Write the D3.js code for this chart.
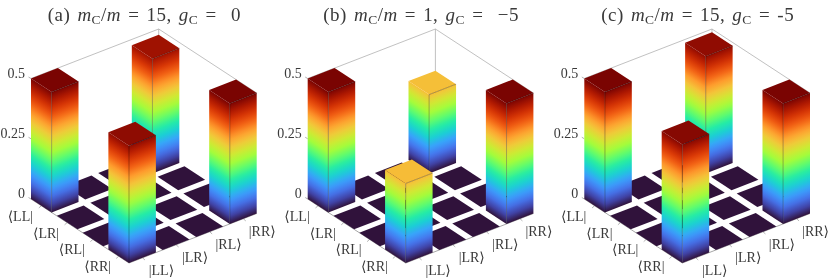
<!DOCTYPE html>
<html>
<head>
<meta charset="utf-8">
<script src="https://cdn.jsdelivr.net/npm/d3@7"></script>
<style>
  html, body { margin: 0; padding: 0; background: #fff; }
  text { font-family: "Liberation Serif", "DejaVu Serif", serif; fill: #3a3a3a; }
</style>
</head>
<body>
<div id="wrapper"></div>
<script>
const bras = ['LL', 'LR', 'RL', 'RR'];
const kets = ['LL', 'LR', 'RL', 'RR'];
const zTicks = [0, 0.25, 0.5];
const zTickLabels = ['0', '0.25', '0.5'];

// rows are bras, columns are kets
const panelA = [[0.5, 0, 0, 0.476], [0, 0, 0, 0], [0, 0, 0, 0], [0.487, 0, 0, 0.5]];
const panelB = [[0.5, 0, 0, 0.327], [0, 0, 0, 0], [0, 0, 0, 0], [0.33, 0, 0, 0.5]];
const panelC = [[0.5, 0, 0, 0.486], [0, 0, 0, 0], [0, 0, 0, 0], [0.492, 0, 0, 0.5]];

const turboStops = ['#30123b', '#4145ab', '#4675ed', '#39a2fc', '#1bcfd4', '#24eca6', '#61fc6c',
  '#a4fc3b', '#d1e834', '#f3c63a', '#fe9b2d', '#f36315', '#d93806', '#b11901', '#7a0402'];

const panels = [
  { values: panelA, offset: 0, title: ['(a) ', 'm', 'C', '/', 'm', ' = 15, ', 'g', 'C', ' =\u00A0\u00A00'], titleX: 144.4 },
  { values: panelB, offset: 276.7, title: ['(b) ', 'm', 'C', '/', 'm', ' = 1, ', 'g', 'C', ' =\u00A0\u00A0\u22125'], titleX: 144.4 },
  { values: panelC, offset: 553.3, title: ['(c) ', 'm', 'C', '/', 'm', ' = 15, ', 'g', 'C', ' = -5'], titleX: 144.4 }
];

const dimensions = {
  width: 830,
  height: 280,
  left: { x: 31, y: 199 },     // left corner of the floor
  colVec: { x: 127.7, y: -49.5 },
  rowVec: { x: 98, y: 64 }
};

const wrapper = d3.select('#wrapper')
  .append('svg')
    .attr('width', dimensions.width)
    .attr('height', dimensions.height)
    .style('display', 'block')
    .style('filter', 'blur(0.35px)');

const defs = wrapper.append('defs');

const colorScale = d3.scaleLinear()
  .domain(turboStops.map((d, i) => i / (turboStops.length - 1)))
  .range(turboStops);

const zColor = d3.scaleLinear().domain([0, 0.5]).range([0, 1]);
const zScale = d3.scaleLinear().domain([0, 0.5]).range([0, 120.5]);
const colScale = d3.scaleBand().domain(kets).range([0, 1]).paddingInner(0.2);
const rowScale = d3.scaleBand().domain(bras).range([0, 1]).paddingInner(0.2);

const project = (u, v, z) => [
  dimensions.left.x + u * dimensions.colVec.x + v * dimensions.rowVec.x,
  dimensions.left.y + u * dimensions.colVec.y + v * dimensions.rowVec.y - zScale(z)
];

const line = d3.line();
const closed = pts => line(pts) + 'Z';
let gradId = 0;

function faceGradient(a, b, z) {
  // colour bands run along the bottom edge a-b of the face
  const ex = b[0] - a[0], ey = b[1] - a[1];
  const len = Math.hypot(ex, ey);
  let nx = ey / len, ny = -ex / len;
  if (ny > 0) { nx = -nx; ny = -ny; }
  const d = zScale(z) * Math.abs(ny);
  const id = 'face' + (gradId++);
  const grad = defs.append('linearGradient')
      .attr('id', id)
      .attr('gradientUnits', 'userSpaceOnUse')
      .attr('x1', a[0]).attr('y1', a[1])
      .attr('x2', a[0] + nx * d).attr('y2', a[1] + ny * d);
  d3.range(0, 1.0001, 1 / 30).forEach(t => {
    grad.append('stop')
        .attr('offset', t)
        .attr('stop-color', colorScale(zColor(z * t)));
  });
  return `url(#${id})`;
}

function drawPanel(panel) {
  const bounds = wrapper.append('g')
      .attr('transform', `translate(${panel.offset}, 0)`);

  // title
  const title = bounds.append('text')
      .attr('x', panel.titleX)
      .attr('y', 21)
      .attr('text-anchor', 'middle')
      .style('font-size', '19px')
      .style('letter-spacing', '0.45px')
      .style('word-spacing', '2px');
  panel.title.forEach((part, i) => {
    const isMath = part === 'm' || part === 'g';
    const span = title.append('tspan').text(part);
    if (isMath) span.style('font-style', 'italic');
    if (part === 'C') span.attr('dy', 3).style('font-size', '13.5px');
    if (i > 0 && panel.title[i - 1] === 'C') span.attr('dy', -3);
  });

  // box edges behind the bars
  const box = bounds.append('g')
      .attr('fill', 'none')
      .attr('stroke', '#a6a6a6')
      .attr('stroke-width', 0.7);
  box.append('path').attr('d', line([project(0, 0, 0.5), project(1, 0, 0.5), project(1, 1, 0.5)]));
  box.append('path').attr('d', line([project(1, 0, 0), project(1, 0, 0.5)]));
  box.append('path').attr('d', line([project(0, 0, 0), project(0, 1, 0), project(1, 1, 0)]))
      .attr('stroke', '#808080');

  // z axis ticks and labels
  zTicks.forEach((t, i) => {
    const p = project(0, 0, t);
    bounds.append('path')
        .attr('d', line([p, [p[0] - 2.5, p[1] - 1.5]]))
        .attr('stroke', '#808080')
        .attr('stroke-width', 0.6);
    bounds.append('text')
        .attr('x', p[0] - 6)
        .attr('y', p[1] - 1)
        .attr('text-anchor', 'end')
        .style('font-size', '14px')
        .text(zTickLabels[i]);
  });

  // bra and ket labels with ticks
  bras.forEach(b => {
    const v = rowScale(b) + rowScale.bandwidth() / 2;
    const p = project(0, v, 0);
    bounds.append('path')
        .attr('d', line([p, [p[0] - 2.5, p[1] + 2.2]]))
        .attr('stroke', '#808080').attr('stroke-width', 0.6);
    bounds.append('text')
        .attr('x', p[0] - 21)
        .attr('y', p[1] + 15)
        .attr('text-anchor', 'middle')
        .style('font-size', '14px')
        .text('\u27E8' + b + '|');
  });
  kets.forEach(k => {
    const u = colScale(k) + colScale.bandwidth() / 2;
    const p = project(u, 1, 0);
    bounds.append('path')
        .attr('d', line([p, [p[0] + 2.5, p[1] + 2.2]]))
        .attr('stroke', '#808080').attr('stroke-width', 0.6);
    bounds.append('text')
        .attr('x', p[0] + 19)
        .attr('y', p[1] + 17)
        .attr('text-anchor', 'middle')
        .style('font-size', '14px')
        .text('|' + k + '\u27E9');
  });

  // cells sorted back to front
  const cells = [];
  bras.forEach((b, r) => kets.forEach((k, c) => cells.push({ b, k, r, c, z: panel.values[r][c] })));
  cells.sort((p, q) => (p.r - p.c) - (q.r - q.c));

  cells.forEach(cell => {
    const u0 = colScale(cell.k), u1 = u0 + colScale.bandwidth();
    const v0 = rowScale(cell.b), v1 = v0 + rowScale.bandwidth();

    if (cell.z === 0) {
      bounds.append('path')
          .attr('d', closed([project(u0, v0, 0), project(u1, v0, 0), project(u1, v1, 0), project(u0, v1, 0)]))
          .attr('fill', colorScale(0));
      return;
    }

    const leftFace = [project(u0, v0, 0), project(u0, v1, 0), project(u0, v1, cell.z), project(u0, v0, cell.z)];
    const rightFace = [project(u0, v1, 0), project(u1, v1, 0), project(u1, v1, cell.z), project(u0, v1, cell.z)];
    const topFace = [project(u0, v0, cell.z), project(u1, v0, cell.z), project(u1, v1, cell.z), project(u0, v1, cell.z)];

    bounds.append('path')
        .attr('d', closed(leftFace))
        .attr('fill', faceGradient(leftFace[0], leftFace[1], cell.z));
    bounds.append('path')
        .attr('d', closed(rightFace))
        .attr('fill', faceGradient(rightFace[0], rightFace[1], cell.z));
    bounds.append('path')
        .attr('d', closed(topFace))
        .attr('fill', colorScale(zColor(cell.z)));
    // only the three edges that meet at the near top corner are dark
    bounds.append('path')
        .attr('d', line([topFace[3], rightFace[3], topFace[2]]) + line([rightFace[0], rightFace[3]]))
        .attr('fill', 'none')
        .attr('stroke', '#000')
        .attr('stroke-opacity', 0.5)
        .attr('stroke-width', 0.6);
  });
}

panels.forEach(drawPanel);
</script>
</body>
</html>
